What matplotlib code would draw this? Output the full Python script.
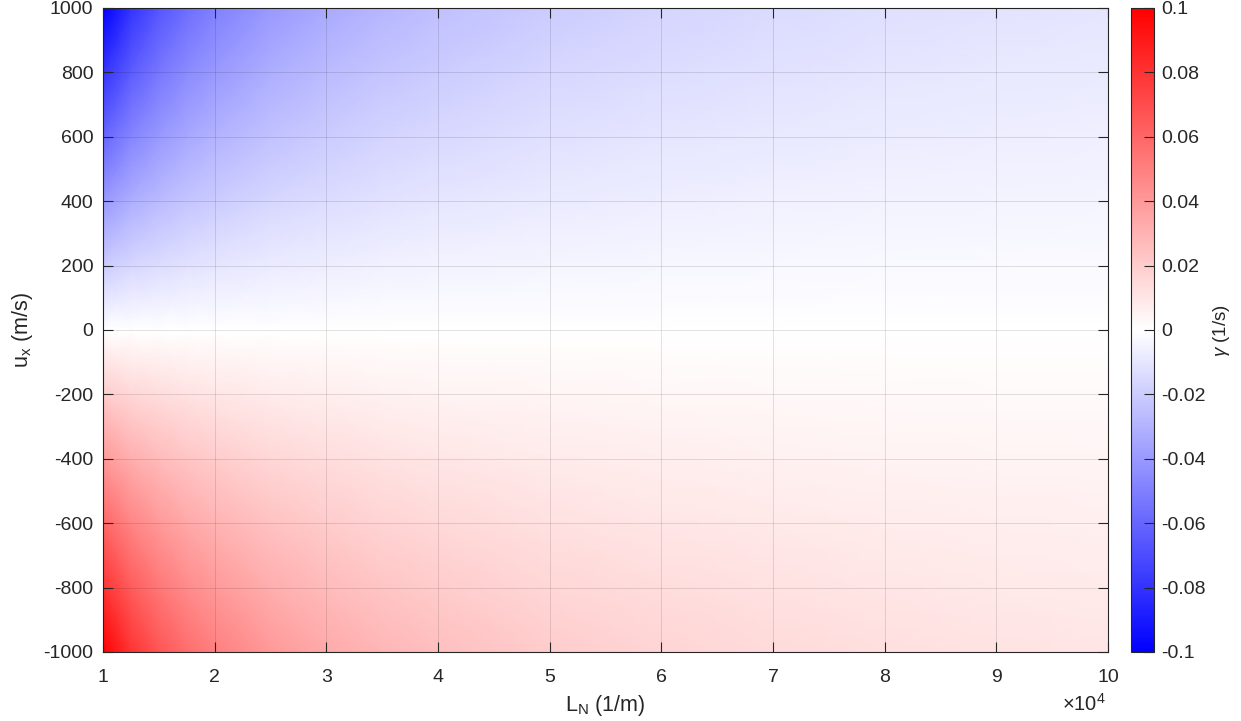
import numpy as np
import matplotlib
matplotlib.use("Agg")
import matplotlib.pyplot as plt
from matplotlib.colors import LinearSegmentedColormap, Normalize
from matplotlib.cm import ScalarMappable

plt.rcParams['font.family'] = ['Liberation Sans', 'DejaVu Sans']
plt.rcParams['mathtext.fontset'] = 'custom'
plt.rcParams['mathtext.rm'] = 'Liberation Sans'
plt.rcParams['mathtext.it'] = 'Liberation Sans:italic'
plt.rcParams['axes.unicode_minus'] = False

# Data
L_N = [1.0e4, 1.25e4, 1.5e4, 1.75e4, 2.0e4, 2.5e4, 3.0e4, 3.5e4, 4.0e4,
       5.0e4, 6.0e4, 7.0e4, 8.0e4, 9.0e4, 10.0e4]
u_x = [-1000, -800, -600, -400, -200, 0, 200, 400, 600, 800, 1000]
gamma_u_m1000 = [0.100, 0.080, 0.0667, 0.0571, 0.050, 0.040, 0.0333, 0.0286, 0.025, 0.020, 0.0167, 0.0143, 0.0125, 0.0111, 0.010]
gamma_u_m800 = [0.080, 0.064, 0.0533, 0.0457, 0.040, 0.032, 0.0267, 0.0229, 0.020, 0.016, 0.0133, 0.0114, 0.010, 0.0089, 0.008]
gamma_u_m600 = [0.060, 0.048, 0.040, 0.0343, 0.030, 0.024, 0.020, 0.0171, 0.015, 0.012, 0.010, 0.0086, 0.0075, 0.0067, 0.006]
gamma_u_m400 = [0.040, 0.032, 0.0267, 0.0229, 0.020, 0.016, 0.0133, 0.0114, 0.010, 0.008, 0.0067, 0.0057, 0.005, 0.0044, 0.004]
gamma_u_m200 = [0.020, 0.016, 0.0133, 0.0114, 0.010, 0.008, 0.0067, 0.0057, 0.005, 0.004, 0.0033, 0.0029, 0.0025, 0.0022, 0.002]
gamma_u_0 = [0.0, 0.0, 0.0, 0.0, 0.0, 0.0, 0.0, 0.0, 0.0, 0.0, 0.0, 0.0, 0.0, 0.0, 0.0]
gamma_u_p200 = [-0.020, -0.016, -0.0133, -0.0114, -0.010, -0.008, -0.0067, -0.0057, -0.005, -0.004, -0.0033, -0.0029, -0.0025, -0.0022, -0.002]
gamma_u_p400 = [-0.040, -0.032, -0.0267, -0.0229, -0.020, -0.016, -0.0133, -0.0114, -0.010, -0.008, -0.0067, -0.0057, -0.005, -0.0044, -0.004]
gamma_u_p600 = [-0.060, -0.048, -0.040, -0.0343, -0.030, -0.024, -0.020, -0.0171, -0.015, -0.012, -0.010, -0.0086, -0.0075, -0.0067, -0.006]
gamma_u_p800 = [-0.080, -0.064, -0.0533, -0.0457, -0.040, -0.032, -0.0267, -0.0229, -0.020, -0.016, -0.0133, -0.0114, -0.010, -0.0089, -0.008]
gamma_u_p1000 = [-0.100, -0.080, -0.0667, -0.0571, -0.050, -0.040, -0.0333, -0.0286, -0.025, -0.020, -0.0167, -0.0143, -0.0125, -0.0111, -0.010]

x_ticks = [1e4, 2e4, 3e4, 4e4, 5e4, 6e4, 7e4, 8e4, 9e4, 1e5]
x_ticklabels = ['1', '2', '3', '4', '5', '6', '7', '8', '9', '10']
y_ticks = [-1000, -800, -600, -400, -200, 0, 200, 400, 600, 800, 1000]
cb_ticks = [-0.1, -0.08, -0.06, -0.04, -0.02, 0, 0.02, 0.04, 0.06, 0.08, 0.1]
cb_ticklabels = ['-0.1', '-0.08', '-0.06', '-0.04', '-0.02', '0', '0.02', '0.04', '0.06', '0.08', '0.1']

C = np.array([gamma_u_m1000, gamma_u_m800, gamma_u_m600, gamma_u_m400, gamma_u_m200,
              gamma_u_0, gamma_u_p200, gamma_u_p400, gamma_u_p600, gamma_u_p800, gamma_u_p1000])
X, Y = np.meshgrid(L_N, u_x)

cmap = LinearSegmentedColormap.from_list('bwr_m', [(0, 0, 1), (1, 1, 1), (1, 0, 0)], N=512)
norm = Normalize(vmin=-0.1, vmax=0.1)

tc = '#262626'
fs = 14
fig = plt.figure(figsize=(12.41, 7.21), dpi=100)
ax = fig.add_axes([103/1241, 1 - 652/721, (1108 - 103)/1241, (652 - 8)/721])
ax.pcolormesh(X, Y, C, cmap=cmap, norm=norm, shading='gouraud')
ax.set_xlim(1e4, 1e5)
ax.set_ylim(-1000, 1000)
ax.set_xticks(x_ticks)
ax.set_xticklabels(x_ticklabels)
ax.set_yticks(y_ticks)
ax.grid(True, color='k', alpha=0.13, linewidth=0.6)
ax.set_axisbelow(False)
ax.tick_params(direction='in', length=7, width=0.8, top=True, right=True,
               labelsize=fs, colors=tc)
ax.tick_params(axis='x', pad=12)
ax.tick_params(axis='y', pad=7)
for s in ax.spines.values():
    s.set_color(tc)
    s.set_linewidth(0.8)
ax.set_xlabel('L$_\\mathrm{N}$ (1/m)', fontsize=15.5, color=tc, labelpad=5)
ax.set_ylabel('u$_\\mathrm{x}$ (m/s)', fontsize=15.5, color=tc, labelpad=6)
fig.text(1106/1241, 1 - 704/721, '$\\times$10$^4$', fontsize=14.5, color=tc,
         ha='right', va='center')

cax = fig.add_axes([1131/1241, 1 - 652/721, 23/1241, (652 - 8)/721])
cb = fig.colorbar(ScalarMappable(norm=norm, cmap=cmap), cax=cax)
cb.set_ticks(cb_ticks)
cb.set_ticklabels(cb_ticklabels)
cax.tick_params(direction='in', length=7, width=0.8, labelsize=fs, colors=tc, pad=5)
cb.outline.set_edgecolor(tc)
cb.outline.set_linewidth(0.8)
fig.text(1222/1241, 1 - 331/721, '$\\gamma$ (1/s)', fontsize=13.5, color=tc,
         rotation=90, ha='center', va='center')

fig.savefig('out.png', dpi=100)
